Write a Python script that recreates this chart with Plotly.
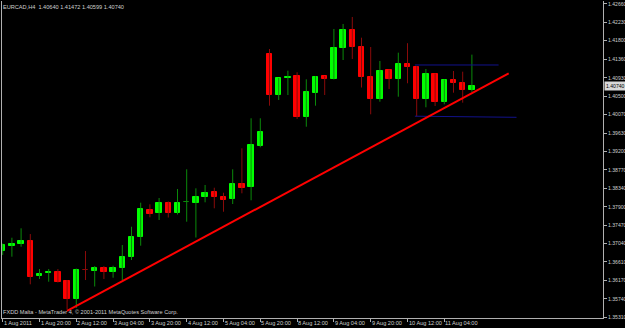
import plotly.graph_objects as go

# ---- data (EURCAD H4, bar index 0 = 1 Aug 2011 04:00) ----
bar_index = list(range(52))
opens = [1.36872, 1.36990, 1.37023, 1.37100, 1.36279, 1.36342, 1.36373, 1.36162, 1.35739, 1.36415,
         1.36403, 1.36460, 1.36380, 1.36474, 1.36725, 1.37187, 1.37827, 1.37750, 1.37999, 1.37750,
         1.38006, 1.37999, 1.38132, 1.38243, 1.38132, 1.38085, 1.38437, 1.38360, 1.39340, 1.41480,
         1.40525, 1.40917, 1.40978, 1.40002, 1.40579, 1.40964, 1.40901, 1.41621, 1.42050, 1.41658,
         1.40947, 1.40431, 1.41112, 1.40893, 1.41252, 1.41189, 1.40424, 1.41018, 1.40368, 1.40877,
         1.40814, 1.40640]
highs = [1.37041, 1.37177, 1.37398, 1.37264, 1.36443, 1.36443, 1.36443, 1.36185, 1.36455, 1.36865,
         1.36513, 1.36513, 1.36521, 1.37006, 1.37435, 1.37999, 1.37961, 1.38109, 1.38027, 1.38320,
         1.38782, 1.38336, 1.38414, 1.38350, 1.38233, 1.38782, 1.39275, 1.39979, 1.39979, 1.41604,
         1.40924, 1.41095, 1.41058, 1.40893, 1.40971, 1.40971, 1.42074, 1.42191, 1.42355, 1.41869,
         1.41651, 1.41323, 1.41123, 1.41518, 1.41740, 1.41205, 1.41135, 1.41030, 1.40889, 1.41088,
         1.41072, 1.41472]
lows = [1.36772, 1.36732, 1.36966, 1.36084, 1.36209, 1.36145, 1.36126, 1.35490, 1.35528, 1.36185,
        1.36033, 1.36209, 1.36239, 1.36185, 1.36654, 1.36990, 1.37656, 1.37593, 1.37651, 1.37722,
        1.37553, 1.37182, 1.38008, 1.37867, 1.37787, 1.37968, 1.38219, 1.38055, 1.39298, 1.40274,
        1.40408, 1.40525, 1.39962, 1.39781, 1.40274, 1.40525, 1.40889, 1.41346, 1.41370, 1.40701,
        1.40072, 1.40368, 1.40666, 1.40485, 1.40800, 1.40021, 1.40237, 1.40267, 1.40307, 1.40579,
        1.40345, 1.40599]
closes = [1.37006, 1.37030, 1.37100, 1.36263, 1.36326, 1.36380, 1.36145, 1.35739, 1.36420, 1.36412,
          1.36478, 1.36373, 1.36474, 1.36732, 1.37187, 1.37844, 1.37740, 1.37999, 1.37750, 1.37999,
          1.38009, 1.38139, 1.38226, 1.38125, 1.38069, 1.38437, 1.38350, 1.39352, 1.39650, 1.40525,
          1.40917, 1.40954, 1.40002, 1.40588, 1.40954, 1.40901, 1.41635, 1.42050, 1.41658, 1.40954,
          1.40431, 1.41088, 1.40901, 1.41245, 1.41182, 1.40424, 1.41018, 1.40368, 1.40877, 1.40800,
          1.40640, 1.40740]

price_ticks = [1.42660, 1.42230, 1.41800, 1.41360, 1.40930, 1.40500, 1.40070, 1.39630, 1.39200,
               1.38770, 1.38340, 1.37900, 1.37470, 1.37040, 1.36610, 1.36170, 1.35740, 1.35310]
time_tick_pos = [0, 4, 8, 12, 16, 20, 24, 28, 32, 36, 40, 44, 48]
time_tick_text = ["1 Aug 2011", "1 Aug 20:00", "2 Aug 12:00", "3 Aug 04:00", "3 Aug 20:00",
                  "4 Aug 12:00", "5 Aug 04:00", "5 Aug 20:00", "8 Aug 12:00", "9 Aug 04:00",
                  "9 Aug 20:00", "10 Aug 12:00", "11 Aug 04:00"]

trend_x = [7, 55]
trend_y = [1.35462, 1.41034]
hline_top_x = [44.8, 53.9]
hline_top_y = [1.41229, 1.41229]
hline_bot_x = [44.8, 55.85]
hline_bot_y = [1.40028, 1.40002]

title_text = "EURCAD,H4  1.40640 1.41472 1.40599 1.40740"
footer_text = "FXDD Malta - MetaTrader 4, \u00a9 2001-2011 MetaQuotes Software Corp."
last_price = 1.40740
y_range = [1.35294, 1.42730]
x_range = [-0.076, 65.25]

# ---- styling ----
BULL_BODY, BEAR_BODY = "#00ff00", "#ff0000"
BULL_WICK, BEAR_WICK = "#0a8a0a", "#8a0a0a"
AXIS = "#b0b0b0"
TXT = "#cfcfcf"
FONT = "Liberation Sans"
FS = 5.6
FS_Y = 5.1

fig = go.Figure()

# wicks
for bull, col in ((True, BULL_WICK), (False, BEAR_WICK)):
    wx, wy = [], []
    for i, o, h, l, c in zip(bar_index, opens, highs, lows, closes):
        if (c >= o) == bull:
            wx += [i, i, None]
            wy += [l, h, None]
    fig.add_trace(go.Scatter(x=wx, y=wy, mode="lines", line=dict(color=col, width=1),
                             hoverinfo="skip", showlegend=False))

# bodies
base = [min(o, c) for o, c in zip(opens, closes)]
height = [abs(c - o) for o, c in zip(opens, closes)]
fill = [BULL_BODY if c >= o else BEAR_BODY for o, c in zip(opens, closes)]
edge = []
for o, c in zip(opens, closes):
    if abs(c - o) < 0.00006:
        edge.append(BULL_WICK if c >= o else BEAR_WICK)
    else:
        edge.append(BULL_BODY if c >= o else BEAR_BODY)
fig.add_trace(go.Bar(x=bar_index, y=height, base=base, width=0.6,
                     marker=dict(color=fill, line=dict(color=edge, width=1)),
                     showlegend=False, hoverinfo="skip"))

# objects
fig.add_trace(go.Scatter(x=hline_top_x, y=hline_top_y, mode="lines",
                         line=dict(color="#12128c", width=1), showlegend=False, hoverinfo="skip"))
fig.add_trace(go.Scatter(x=hline_bot_x, y=hline_bot_y, mode="lines",
                         line=dict(color="#12128c", width=1), showlegend=False, hoverinfo="skip"))
fig.add_trace(go.Scatter(x=trend_x, y=trend_y, mode="lines",
                         line=dict(color="#ff0000", width=2), showlegend=False, hoverinfo="skip"))

annotations = []
for pos, txt in zip(time_tick_pos, time_tick_text):
    annotations.append(dict(x=pos, xref="x", y=0, yref="paper", text=txt, showarrow=False,
                            xanchor="left", yanchor="top", xshift=0, yshift=-1,
                            font=dict(family=FONT, size=FS, color=TXT), borderpad=0))
annotations.append(dict(x=0, xref="paper", y=1, yref="paper", text=title_text, showarrow=False,
                        xanchor="left", yanchor="top", xshift=0, yshift=-2,
                        font=dict(family=FONT, size=FS, color=TXT), borderpad=0))
annotations.append(dict(x=0, xref="paper", y=0, yref="paper", text=footer_text, showarrow=False,
                        xanchor="left", yanchor="bottom", xshift=0, yshift=2,
                        font=dict(family=FONT, size=FS, color=TXT), borderpad=0))
annotations.append(dict(x=1, xref="paper", y=last_price, yref="y", text="%.5f" % last_price,
                        showarrow=False, xanchor="left", yanchor="middle", xshift=1,
                        bgcolor="#d8d8d8", font=dict(family=FONT, size=FS_Y, color="#000000"),
                        borderpad=1))

fig.update_layout(
    width=625, height=328,
    margin=dict(l=2, r=22, t=1, b=10, autoexpand=False),
    paper_bgcolor="#000000", plot_bgcolor="#000000",
    barmode="overlay", bargap=0,
    showlegend=False,
    annotations=annotations,
    xaxis=dict(range=x_range, showgrid=False, zeroline=False, showline=True, linecolor=AXIS,
               linewidth=1, ticks="outside", ticklen=3, tickcolor=AXIS, tickwidth=1,
               tickvals=time_tick_pos, showticklabels=False, fixedrange=True, automargin=False),
    yaxis=dict(range=y_range, side="right", showgrid=False, zeroline=False, showline=True,
               mirror=True, linecolor=AXIS, linewidth=1, ticks="outside", ticklen=3,
               tickcolor=AXIS, tickwidth=1, tickvals=price_ticks,
               ticktext=["%.5f" % v for v in price_ticks], automargin=False,
               tickfont=dict(family=FONT, size=FS_Y, color=TXT), fixedrange=True),
)

fig.write_html("out.html")
